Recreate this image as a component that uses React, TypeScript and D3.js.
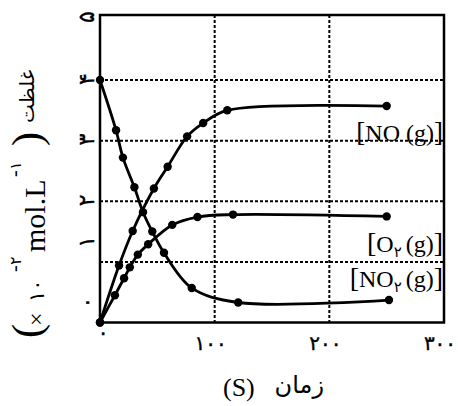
import React from "react";
import * as d3 from "d3";

const W = 458;
const H = 406;

// Data (time in s, concentration ×10^-2 mol/L)
const noTimes = [0, 16.6, 28.5, 47, 59, 76, 90, 111, 250];
const noValues = [0, 0.94, 1.51, 2.21, 2.57, 3.07, 3.29, 3.5, 3.57];

const o2Times = [0, 13, 21, 26, 33, 42, 63, 85, 116, 250];
const o2Values = [0, 0.45, 0.73, 0.91, 1.12, 1.29, 1.61, 1.74, 1.78, 1.75];

const no2Times = [0, 14, 20, 30, 37.5, 45.6, 55.8, 80, 120.5, 252];
const no2Values = [4.0, 3.17, 2.72, 2.23, 1.82, 1.5, 1.15, 0.57, 0.33, 0.37];

const xTicks = [0, 100, 200, 300];
const xTickLabels = ["۰", "۱۰۰", "۲۰۰", "۳۰۰"];
const yTicks = [0, 1, 2, 3, 4, 5];
const yTickLabels = ["۰", "۱", "۲", "۳", "۴", "۵"];
const xGrid = [100, 200];
const yGrid = [1, 2, 3, 4];

const serif = "'Liberation Serif','Times New Roman',serif";
const pers = "'DejaVu Sans',sans-serif";

export default function App() {
  const x = d3.scaleLinear().domain([0, 300]).range([100, 444]);
  const y = d3.scaleLinear().domain([0, 4]).range([322.5, 80]);
  const top = 15;

  const line = d3
    .line<[number, number]>()
    .x((d) => x(d[0]))
    .y((d) => y(d[1]))
    .curve(d3.curveCatmullRom.alpha(0.5));

  const series = [
    { t: noTimes, v: noValues },
    { t: o2Times, v: o2Values },
    { t: no2Times, v: no2Values },
  ].map((s) => s.t.map((t, i) => [t, s.v[i]] as [number, number]));

  return (
    <div style={{ position: "absolute", left: 0, top: 0 }}>
      <svg width={W} height={H} style={{ display: "block", background: "#fff" }}>
        {/* grid */}
        {xGrid.map((g) => (
          <line key={"gx" + g} x1={x(g)} x2={x(g)} y1={top} y2={y(0)} stroke="#000" strokeWidth={2} strokeDasharray="3,2" />
        ))}
        {yGrid.map((g) => (
          <line key={"gy" + g} x1={x(0)} x2={x(300)} y1={y(g)} y2={y(g)} stroke="#000" strokeWidth={2} strokeDasharray="3,2" />
        ))}
        {/* frame */}
        <rect x={x(0)} y={top} width={x(300) - x(0)} height={y(0) - top} fill="none" stroke="#000" strokeWidth={2.5} />

        {/* curves */}
        {series.map((pts, i) => (
          <g key={"s" + i}>
            <path d={line(pts) || ""} fill="none" stroke="#000" strokeWidth={2.8} />
            {pts.map((p, j) => (
              <circle key={j} cx={x(p[0])} cy={y(p[1])} r={4.2} fill="#000" />
            ))}
          </g>
        ))}

        {/* x tick labels */}
        {xTicks.map((t, i) => (
          <text
            key={"xt" + t}
            x={i === 0 ? x(t) + 3 : x(t) - 4}
            y={i === 0 ? 339 : 350}
            textAnchor="middle"
            fontFamily={pers}
            fontSize={20}
            stroke="#000"
            strokeWidth={0.4}
            fill="#000"
          >
            {xTickLabels[i]}
          </text>
        ))}

        {/* y tick labels (rotated) */}
        {yTicks.map((t, i) => {
          const yy = t === 5 ? top + 2 : t <= 1 ? y(t) - 20 : y(t) - 1;
          return (
            <text
              key={"yt" + t}
              transform={`translate(94,${yy}) rotate(-90)`}
              textAnchor="middle"
              fontFamily={pers}
              fontSize={22}
              stroke="#000"
              strokeWidth={0.4}
              fill="#000"
            >
              {yTickLabels[i]}
            </text>
          );
        })}

        {/* x axis title */}
        <text x={223} y={396} fontFamily={serif} fontSize={26} fill="#000">(S)</text>
        <text x={324} y={393} textAnchor="end" fontFamily={pers} fontSize={24} fill="#000">زمان</text>

        {/* y axis title (rotated) */}
        <g transform="translate(0,340) rotate(-90)">
          <text x={2} y={41} fontFamily={serif} fontSize={42} fill="#000">(</text>
          <text x={14} y={44} fontFamily={serif} fontSize={24} fill="#000">×</text>
          <text x={38} y={44} fontFamily={pers} fontSize={21} fill="#000">۱۰</text>
          <text x={68} y={21} fontFamily={serif} fontSize={20} fill="#000">-</text>
          <text x={75} y={21} fontFamily={pers} fontSize={16} fill="#000">۲</text>
          <text x={88} y={45} fontFamily={serif} fontSize={30} fill="#000">mol.L</text>
          <text x={163} y={21} fontFamily={serif} fontSize={20} fill="#000">-</text>
          <text x={170} y={21} fontFamily={pers} fontSize={16} fill="#000">۱</text>
          <text x={194} y={41} fontFamily={serif} fontSize={42} fill="#000">)</text>
          <text x={217} y={34} fontFamily={pers} fontSize={20} fill="#000">غلظت</text>
        </g>

        {/* series labels */}
        <text x={443} y={141} textAnchor="end" fontFamily={serif} fontSize={24} fill="#000">
          <tspan fontSize={27}>[</tspan>NO<tspan dx={6}>(g)</tspan><tspan fontSize={27}>]</tspan>
        </text>
        <text x={443} y={252} textAnchor="end" fontFamily={serif} fontSize={24} fill="#000">
          <tspan fontSize={28}>[</tspan>O<tspan fontFamily={pers} fontSize={15} dy={5}>۲</tspan>
          <tspan dy={-5} dx={4}>(g)</tspan><tspan fontSize={28}>]</tspan>
        </text>
        <text x={443} y={287} textAnchor="end" fontFamily={serif} fontSize={24} fill="#000">
          <tspan fontSize={28}>[</tspan>NO<tspan fontFamily={pers} fontSize={15} dy={5}>۲</tspan>
          <tspan dy={-5} dx={4}>(g)</tspan><tspan fontSize={28}>]</tspan>
        </text>
      </svg>
    </div>
  );
}
